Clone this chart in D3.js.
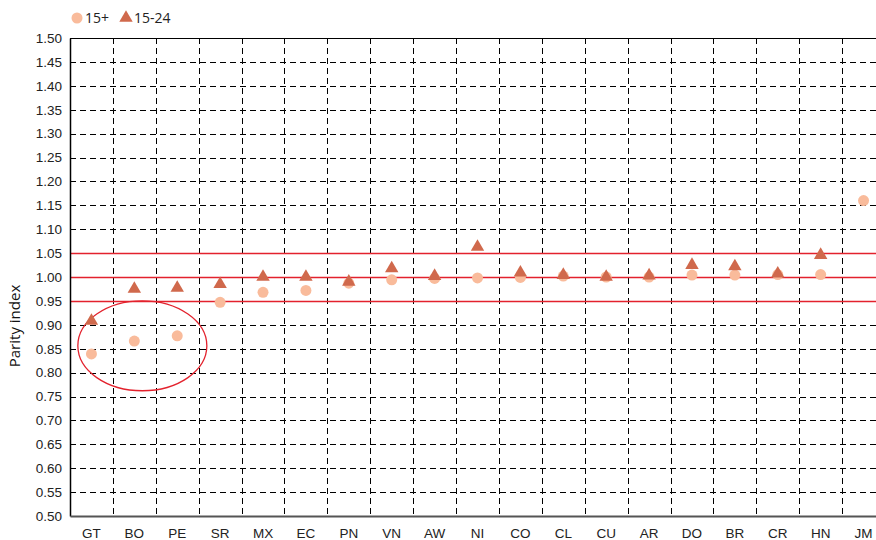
<!DOCTYPE html>
<html>
<head>
<meta charset="utf-8">
<script src="https://cdn.jsdelivr.net/npm/d3@7"></script>
<style>
  body { margin: 0; background: #fff; }
  svg { font-family: "Open Sans", "Noto Sans", sans-serif; }
</style>
</head>
<body>
<div id="chart-area"></div>
<script>
let categories = ['GT', 'BO', 'PE', 'SR', 'MX', 'EC', 'PN', 'VN', 'AW', 'NI', 'CO', 'CL', 'CU', 'AR', 'DO', 'BR', 'CR', 'HN', 'JM'];
let adult = [0.839, 0.866, 0.877, 0.947, 0.968, 0.972, 0.987, 0.994, 0.997, 0.998, 0.999, 1.002, 1.000, 1.000, 1.004, 1.004, 1.005, 1.005, 1.160];
let youth = [0.908, 0.975, 0.977, 0.985, 1.000, 1.000, 0.990, 1.018, 1.002, 1.063, 1.009, 1.004, 1.000, 1.003, 1.025, 1.022, 1.007, 1.046, null];
let yTicks = d3.range(0.50, 1.5001, 0.05);
let refLines = [0.95, 1.00, 1.05];
let seriesNames = ['15+', '15-24'];

let margin = { left: 70, right: -9, top: 38, bottom: 24 };
let width = 876 - margin.left - margin.right;
let height = 540 - margin.top - margin.bottom;

let svg = d3.select('#chart-area').append('svg')
  .attr('width', 876)
  .attr('height', 540);

let g = svg.append('g')
  .attr('transform', `translate(${margin.left}, ${margin.top})`);

let x = d3.scaleBand()
  .domain(categories)
  .range([0, width]);

let y = d3.scaleLinear()
  .domain([0.5, 1.5])
  .range([height, 0]);

// horizontal grid
g.selectAll('.hgrid')
  .data(yTicks.slice(1, -1))
  .enter()
  .append('line')
  .attr('x1', 0)
  .attr('x2', width)
  .attr('y1', d => Math.round(y(d)) + 0.5)
  .attr('y2', d => Math.round(y(d)) + 0.5)
  .attr('stroke', '#000')
  .attr('stroke-dasharray', '6,4');

// vertical grid at category boundaries
g.selectAll('.vgrid')
  .data(categories.slice(1))
  .enter()
  .append('line')
  .attr('x1', d => Math.round(x(d)) + 0.5)
  .attr('x2', d => Math.round(x(d)) + 0.5)
  .attr('y1', 0)
  .attr('y2', height)
  .attr('stroke', '#000')
  .attr('stroke-dasharray', '6,4');

// top line
g.append('line')
  .attr('x1', 0).attr('x2', width)
  .attr('y1', 0.5).attr('y2', 0.5)
  .attr('stroke', '#000');

// reference lines
g.selectAll('.ref')
  .data(refLines)
  .enter()
  .append('line')
  .attr('x1', 0)
  .attr('x2', width)
  .attr('y1', d => Math.round(y(d)) + 0.5)
  .attr('y2', d => Math.round(y(d)) + 0.5)
  .attr('stroke', '#e3222d')
  .attr('stroke-width', 1.3);

// left axis
let leftAxis = d3.axisLeft(y)
  .tickValues(yTicks)
  .tickFormat(d3.format('.2f'))
  .tickSize(0)
  .tickPadding(8);
g.append('g')
  .attr('class', 'left-axis')
  .call(leftAxis)
  .call(a => a.select('.domain').attr('stroke', '#000').attr('stroke-width', 1.5))
  .selectAll('text')
    .attr('font-size', 13.5)
    .attr('fill', '#222');

// bottom axis
let bottomAxis = d3.axisBottom(x).tickSize(0).tickPadding(12);
g.append('g')
  .attr('class', 'bottom-axis')
  .attr('transform', `translate(0, ${height})`)
  .call(bottomAxis)
  .call(a => a.select('.domain').attr('stroke', '#555').attr('stroke-width', 2))
  .selectAll('text')
    .attr('font-size', 13.5)
    .attr('fill', '#222');

// y label
svg.append('text')
  .attr('transform', 'translate(20, 326) rotate(-90)')
  .attr('text-anchor', 'middle')
  .attr('font-size', 15)
  .attr('fill', '#111')
  .text('Parity index');

// ellipse around GT/BO/PE
g.append('ellipse')
  .attr('cx', x('BO') + x.bandwidth() / 2 + 8)
  .attr('cy', y(0.856))
  .attr('rx', 64.5)
  .attr('ry', y(0.856) - y(0.95))
  .attr('fill', 'none')
  .attr('stroke', '#e3222d')
  .attr('stroke-width', 1.3);

let triangle = d3.symbol().type(d3.symbolTriangle).size(78);

// 15+ circles
g.selectAll('.dot')
  .data(categories.map((c, i) => ({ c: c, v: adult[i] })))
  .enter()
  .append('circle')
  .attr('cx', d => x(d.c) + x.bandwidth() / 2)
  .attr('cy', d => y(d.v))
  .attr('r', 5.5)
  .attr('fill', '#f9bb9b');

// 15-24 triangles
g.selectAll('.tri')
  .data(categories.map((c, i) => ({ c: c, v: youth[i] })).filter(d => d.v !== null))
  .enter()
  .append('path')
  .attr('d', triangle)
  .attr('transform', d => `translate(${x(d.c) + x.bandwidth() / 2}, ${y(d.v)})`)
  .attr('fill', '#d0694c');

// legend
let legend = svg.append('g').attr('transform', 'translate(77, 18)');
legend.append('circle').attr('cx', 0).attr('cy', 0).attr('r', 5.5).attr('fill', '#f9bb9b');
legend.append('text').attr('x', 8).attr('y', 5).attr('font-size', 14).attr('fill', '#222').text(seriesNames[0]);
legend.append('path').attr('d', triangle).attr('transform', 'translate(49, 0)').attr('fill', '#d0694c');
legend.append('text').attr('x', 57).attr('y', 5).attr('font-size', 14).attr('fill', '#222').text(seriesNames[1]);
</script>
</body>
</html>
